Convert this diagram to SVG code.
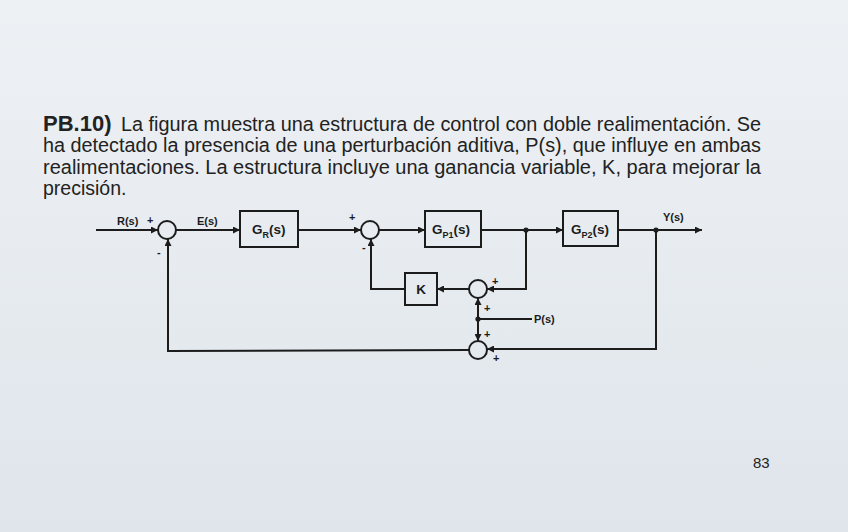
<svg xmlns="http://www.w3.org/2000/svg" width="848" height="532" viewBox="0 0 848 532">
<defs>
<linearGradient id="bg" x1="0" y1="0" x2="0" y2="1">
<stop offset="0" stop-color="#eef1f4"/>
<stop offset="0.6" stop-color="#e5eaef"/>
<stop offset="1" stop-color="#dfe5eb"/>
</linearGradient>
<marker id="ah" viewBox="0 0 10 10" refX="10" refY="5" markerWidth="7" markerHeight="7" markerUnits="userSpaceOnUse" orient="auto">
<path d="M0,0 L10,5 L0,10 z" fill="#1c1c1c"/>
</marker>
<style>
.ln{fill:none;stroke:#1c1c1c;stroke-width:2}
.bx{fill:none;stroke:#1c1c1c;stroke-width:2}
.sm{fill:none;stroke:#1c1c1c;stroke-width:2}
.t{font-family:"Liberation Sans",Arial,sans-serif;fill:#222}
.lb{font-family:"Liberation Sans",Arial,sans-serif;font-weight:bold;font-size:11px;fill:#1c1c1c}
.bt{font-family:"Liberation Sans",Arial,sans-serif;font-weight:bold;font-size:13.5px;fill:#1c1c1c}
.dot{fill:#1c1c1c}
</style>
</defs>
<rect width="848" height="532" fill="url(#bg)"/>

<g id="statement">
<text class="t" x="43" y="131" font-size="22" font-weight="bold">PB.10)</text>
<text class="t" x="121" y="131" font-size="19.5" textLength="640" lengthAdjust="spacingAndGlyphs">La figura muestra una estructura de control con doble realimentación. Se</text>
<text class="t" x="43" y="152" font-size="19.5" textLength="718" lengthAdjust="spacingAndGlyphs">ha detectado la presencia de una perturbación aditiva, P(s), que influye en ambas</text>
<text class="t" x="43" y="174" font-size="19.5" textLength="718" lengthAdjust="spacingAndGlyphs">realimentaciones. La estructura incluye una ganancia variable, K, para mejorar la</text>
<text class="t" x="43" y="195" font-size="19.5">precisión.</text>
</g>

<g id="connectors">
<line class="ln" x1="96" y1="230" x2="158" y2="230" marker-end="url(#ah)"/>
<line class="ln" x1="176" y1="230" x2="240" y2="230" marker-end="url(#ah)"/>
<line class="ln" x1="298" y1="230" x2="361" y2="230" marker-end="url(#ah)"/>
<line class="ln" x1="379" y1="230" x2="425" y2="230" marker-end="url(#ah)"/>
<line class="ln" x1="481" y1="230" x2="563" y2="230" marker-end="url(#ah)"/>
<line class="ln" x1="618" y1="230" x2="702" y2="230" marker-end="url(#ah)"/>
<polyline class="ln" points="526,230 526,289 487,289" marker-end="url(#ah)"/>
<line class="ln" x1="469" y1="289" x2="437" y2="289" marker-end="url(#ah)"/>
<polyline class="ln" points="405,289 371,289 371,239" marker-end="url(#ah)"/>
<line class="ln" x1="532" y1="319" x2="478" y2="319"/>
<line class="ln" x1="478" y1="319" x2="478" y2="298" marker-end="url(#ah)"/>
<line class="ln" x1="478" y1="319" x2="478" y2="341" marker-end="url(#ah)"/>
<polyline class="ln" points="656,230 656,349 487,349" marker-end="url(#ah)"/>
<polyline class="ln" points="469,350 168,351 168,239" marker-end="url(#ah)"/>
<circle class="dot" cx="526" cy="230" r="2.6"/>
<circle class="dot" cx="656" cy="230" r="2.6"/>
<circle class="dot" cx="478" cy="319" r="2.6"/>
</g>

<g id="labels">
<text class="lb" x="117" y="225">R(s)</text>
<text class="lb" x="147" y="224">+</text>
<text class="lb" x="157" y="256">-</text>
<text class="lb" x="197" y="225">E(s)</text>
<text class="lb" x="349" y="221">+</text>
<text class="lb" x="362" y="251">-</text>
<text class="lb" x="663" y="221">Y(s)</text>
<text class="lb" x="534" y="323">P(s)</text>
<text class="lb" x="492" y="285">+</text>
<text class="lb" x="484" y="312">+</text>
<text class="lb" x="484" y="338">+</text>
<text class="lb" x="493" y="362">+</text>
</g>

<g id="sum1"><circle class="sm" cx="167" cy="230" r="9"/></g>
<g id="GR">
<rect class="bx" x="240" y="211" width="58" height="36"/>
<text class="bt" x="252" y="234">G<tspan font-size="9" dy="4">R</tspan><tspan dy="-4">(s)</tspan></text>
</g>
<g id="sum2"><circle class="sm" cx="370" cy="230" r="9"/></g>
<g id="Gp1">
<rect class="bx" x="425" y="211" width="56" height="36"/>
<text class="bt" x="432" y="234">G<tspan font-size="9" dy="4">P1</tspan><tspan dy="-4">(s)</tspan></text>
</g>
<g id="Gp2">
<rect class="bx" x="563" y="211" width="55" height="35"/>
<text class="bt" x="571" y="234">G<tspan font-size="9" dy="4">P2</tspan><tspan dy="-4">(s)</tspan></text>
</g>
<g id="K">
<rect class="bx" x="405" y="273" width="32" height="32"/>
<text class="bt" x="421" y="294" text-anchor="middle" font-size="12">K</text>
</g>
<g id="sum3"><circle class="sm" cx="478" cy="289" r="9"/></g>
<g id="sum4"><circle class="sm" cx="478" cy="350" r="9"/></g>

<text class="t" x="753" y="468" font-size="15" fill="#333">83</text>
</svg>
